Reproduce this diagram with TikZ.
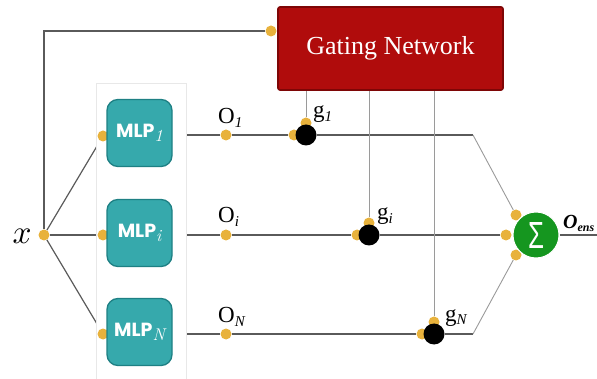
\documentclass[tikz,border=0pt]{standalone}
\usepackage{fontspec}
\usepackage{graphicx}
\newfontfamily\mlpfont{Poppins}
\newfontfamily\labfont{Liberation Serif}
\newfontfamily\sigfont{Liberation Sans}
\usetikzlibrary{backgrounds}
\definecolor{dotyellow}{HTML}{E8B23C}
\definecolor{mlpteal}{HTML}{36A9AC}
\definecolor{mlpedge}{HTML}{1E8084}
\definecolor{gatered}{HTML}{B00C0C}
\definecolor{gateedge}{HTML}{7E0606}
\definecolor{sumgreen}{HTML}{15961F}
\definecolor{wirecol}{HTML}{5A5A5A}
\definecolor{gwirecol}{HTML}{9A9A9A}
\definecolor{panelcol}{HTML}{E8E8E8}
\newcommand{\mlpsub}[1]{\raisebox{-4pt}{\fontsize{17}{17}\selectfont\normalfont\itshape #1}}
\newcommand{\labsub}[1]{\raisebox{-4pt}{\fontsize{15}{15}\selectfont\itshape #1}}
\newcommand{\sumsign}{\resizebox{16pt}{26pt}{\sigfont\char"03A3}}
\newcommand{\bigx}{\resizebox{19pt}{!}{$x$}}
\tikzset{
  ydot/.style={circle, fill=dotyellow, inner sep=0pt, minimum size=11pt},
  gatedot/.style={circle, fill=black, inner sep=0pt, minimum size=21pt},
  mlpbox/.style={rectangle, rounded corners=11pt, fill=mlpteal, draw=mlpedge, line width=1.3pt,
    minimum width=65pt, minimum height=67pt, inner sep=0pt, text=white,
    font=\mlpfont\bfseries\fontsize{19}{21}\selectfont},
  gbox/.style={rectangle, rounded corners=2pt, fill=gatered, draw=gateedge, line width=1.6pt,
    minimum width=225pt, minimum height=83pt, inner sep=0pt, text=white,
    font=\labfont\fontsize{26}{30}\selectfont},
  sumnode/.style={circle, fill=sumgreen, draw=white, line width=1pt, minimum size=46pt,
    inner sep=0pt, text=white},
  lab/.style={anchor=base west, inner sep=0pt, font=\labfont\fontsize{23}{26}\selectfont},
  enslab/.style={anchor=base west, inner sep=0pt, font=\labfont\fontsize{20}{22}\selectfont\bfseries\itshape},
  xlab/.style={inner sep=0pt},
  wire/.style={draw=wirecol, line width=1.2pt},
  thinwire/.style={draw=gwirecol, line width=0.9pt},
}
\begin{document}
\begin{tikzpicture}[x=1pt,y=-1pt]
\useasboundingbox (0,0) rectangle (597,379);
% panel behind MLPs
\draw[panelcol, line width=0.8pt, fill=white] (96,83) rectangle (186,390);
% gating network
\node[gbox] (gn) at (390.5,48.5) {Gating Network};
\node[ydot] (gatein) at (271,31) {};
\coordinate (corner) at (44,31);
% input
\node[ydot] (x) at (44,235) {};
\node[xlab] (xl) at (22,236) {\bigx};
% MLP input dots
\node[ydot] (in1) at (103,136) {};
\node[ydot] (ini) at (103,235) {};
\node[ydot] (inN) at (103,334) {};
% MLPs
\node[mlpbox] (m1) at (139.5,133) {MLP\mlpsub{1}};
\node[mlpbox] (mi) at (139.5,233) {MLP\mlpsub{i}};
\node[mlpbox] (mN) at (139.5,332) {MLP\mlpsub{N}};
% output dots
\node[ydot] (o1) at (226,135) {};
\node[ydot] (oi) at (226,235) {};
\node[ydot] (oN) at (226,334) {};
\node[lab] (lo1) at (218,124) {O\labsub{1}};
\node[lab] (loi) at (218,223) {O\labsub{i}};
\node[lab] (loN) at (218,323) {O\labsub{N}};
% gates
\node[ydot] (gaw) at (294,135) {};
\node[ydot] (gan) at (306,123) {};
\node[gatedot] (ga) at (306,135) {};
\node[ydot] (gbw) at (357,235) {};
\node[ydot] (gbn) at (369,223) {};
\node[gatedot] (gb) at (369,235) {};
\node[ydot] (gcw) at (422,334) {};
\node[ydot] (gcn) at (434,322) {};
\node[gatedot] (gc) at (434,334) {};
\node[lab] (lga) at (313,118) {g\labsub{1}};
\node[lab] (lgb) at (377,220) {g\labsub{i}};
\node[lab] (lgc) at (445,321) {g\labsub{N}};
% sum
\node[ydot] (s1) at (516,215) {};
\node[ydot] (s2) at (506,235) {};
\node[ydot] (s3) at (516,255) {};
\node[sumnode] (sig) at (536,235) {\sumsign};
\node[enslab] (lens) at (563,229) {O\raisebox{-3pt}{\fontsize{12}{12}\selectfont ens}};
\coordinate (c1) at (473,135);
\coordinate (c3) at (473,334);
\coordinate (out) at (600,235);
\begin{scope}[on background layer]
\draw[wire] (gatein) -- (corner) -- (x);
\draw[wire] (x) -- (in1);
\draw[wire] (x) -- (ini);
\draw[wire] (x) -- (inN);
\draw[wire] (m1.east |- o1) -- (o1) -- (gaw) -- (ga) -- (c1);
\draw[wire] (mi.east |- oi) -- (oi) -- (gbw) -- (gb) -- (s2);
\draw[wire] (mN.east |- oN) -- (oN) -- (gcw) -- (gc) -- (c3);
\draw[thinwire] (c1) -- (s1);
\draw[thinwire] (c3) -- (s3);
\draw[wire] (sig) -- (out);
\draw[thinwire] (gn.south -| gan) -- (gan);
\draw[thinwire] (gn.south -| gbn) -- (gbn);
\draw[thinwire] (gn.south -| gcn) -- (gcn);
\end{scope}
\end{tikzpicture}
\end{document}
